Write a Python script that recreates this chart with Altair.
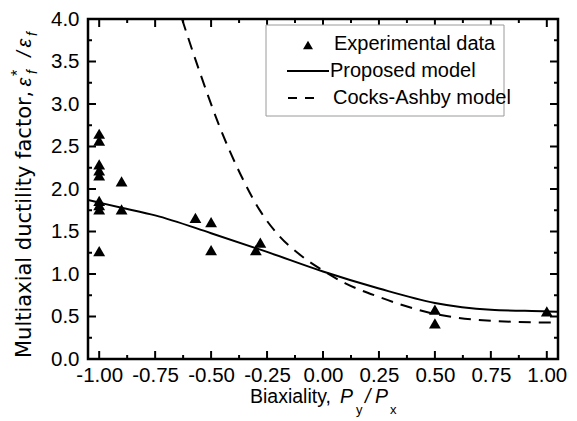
import altair as alt
import pandas as pd

# ---------------- data ----------------
exp_x = [-1.0, -1.0, -1.0, -1.0, -1.0, -1.0, -1.0, -1.0, -1.0,
         -0.9, -0.9, -0.57, -0.5, -0.5, -0.28, -0.3, 0.5, 0.5, 1.0]
exp_y = [2.65, 2.57, 2.29, 2.22, 2.16, 1.86, 1.81, 1.76, 1.27,
         2.09, 1.76, 1.66, 1.61, 1.28, 1.37, 1.28, 0.58, 0.42, 0.56]

prop_x = [-1.05, -1.0, -0.9, -0.75, -0.5, -0.25, 0.0, 0.25, 0.5, 0.75, 1.0, 1.05]
prop_y = [1.87, 1.84, 1.78, 1.69, 1.48, 1.26, 1.03, 0.83, 0.66, 0.58, 0.56, 0.555]

ca_x = [-0.63, -0.55, -0.46, -0.37, -0.28, -0.2, -0.1, 0.0, 0.1, 0.25, 0.5, 0.75, 1.0, 1.05]
ca_y = [4.0, 3.37, 2.72, 2.18, 1.74, 1.46, 1.22, 1.04, 0.89, 0.73, 0.53, 0.45, 0.43, 0.43]

x_ticks = [-1.0, -0.75, -0.5, -0.25, 0.0, 0.25, 0.5, 0.75, 1.0]
y_ticks = [0.0, 0.5, 1.0, 1.5, 2.0, 2.5, 3.0, 3.5, 4.0]
x_minor = [-0.875, -0.625, -0.375, -0.125, 0.125, 0.375, 0.625, 0.875]
y_minor = [0.25, 0.75, 1.25, 1.75, 2.25, 2.75, 3.25, 3.75]

legend_labels = ["Experimental data", "Proposed model", "Cocks-Ashby model"]

# ---------------- layout ----------------
W, H = 470, 340
FONT = "Liberation Sans"
XDOM = [-1.05, 1.05]
YDOM = [0, 4]
TOP = 19  # page y of plot top
LEFT = 88

df_exp = pd.DataFrame({"x": exp_x, "y": exp_y})
df_prop = pd.DataFrame({"x": prop_x, "y": prop_y})
df_ca = pd.DataFrame({"x": ca_x, "y": ca_y})

xs = alt.Scale(domain=XDOM, nice=False, zero=False)
ys = alt.Scale(domain=YDOM, nice=False, zero=False)

minus_fix = "replace(format(datum.value, '%s'), '\u2212', '-')"

xaxis = alt.Axis(values=x_ticks, labelExpr=minus_fix % ".2f", ticks=False, tickSize=0,
                 domain=False, grid=False, title=None, labelFont=FONT, labelFontSize=20.5,
                 labelColor="black", labelPadding=6, labelFlush=False)
yaxis = alt.Axis(values=y_ticks, labelExpr=minus_fix % ".1f", ticks=False, tickSize=0,
                 domain=False, grid=False, title=None, labelFont=FONT, labelFontSize=20.5,
                 labelColor="black", labelPadding=9, labelFlush=False)

base_x = alt.X("x:Q", scale=xs, axis=xaxis)
base_y = alt.Y("y:Q", scale=ys, axis=yaxis)

points = alt.Chart(df_exp).mark_point(shape="triangle-up", filled=True, color="black",
                                      size=140, opacity=1).encode(x=base_x, y=base_y)
prop = alt.Chart(df_prop).mark_line(color="black", strokeWidth=2, interpolate="monotone",
                                    clip=True).encode(x=alt.X("x:Q", scale=xs), y=alt.Y("y:Q", scale=ys))
ca = alt.Chart(df_ca).mark_line(color="black", strokeWidth=2, strokeDash=[12, 8],
                                interpolate="monotone", clip=True).encode(
    x=alt.X("x:Q", scale=xs), y=alt.Y("y:Q", scale=ys))

# inward ticks on all four sides
MAJ, MIN = 8, 4
def ticks_x(vals, length):
    d = pd.DataFrame({"x": vals})
    bot = alt.Chart(d).mark_rule(color="black", strokeWidth=2).encode(
        x=alt.X("x:Q", scale=xs), y=alt.value(H), y2=alt.value(H - length))
    top = alt.Chart(d).mark_rule(color="black", strokeWidth=2).encode(
        x=alt.X("x:Q", scale=xs), y=alt.value(0), y2=alt.value(length))
    return [bot, top]

def ticks_y(vals, length):
    d = pd.DataFrame({"y": vals})
    lft = alt.Chart(d).mark_rule(color="black", strokeWidth=2).encode(
        y=alt.Y("y:Q", scale=ys), x=alt.value(0), x2=alt.value(length))
    rgt = alt.Chart(d).mark_rule(color="black", strokeWidth=2).encode(
        y=alt.Y("y:Q", scale=ys), x=alt.value(W), x2=alt.value(W - length))
    return [lft, rgt]

tick_layers = ticks_x(x_ticks, MAJ) + ticks_x(x_minor, MIN) + ticks_y(y_ticks, MAJ) + ticks_y(y_minor, MIN)

# legend (drawn by hand); positions given in page pixels, converted to plot pixels
def px(v):
    return v - LEFT

def py(v):
    return v - TOP

dummy = pd.DataFrame({"a": [0]})
leg_box = alt.Chart(dummy).mark_rect(fill="white", stroke="#9a9a9a", strokeWidth=1).encode(
    x=alt.value(px(266)), x2=alt.value(px(504)), y=alt.value(py(25)), y2=alt.value(py(116)))
leg_tri = alt.Chart(dummy).mark_point(shape="triangle-up", filled=True, color="black",
                                      size=100, opacity=1).encode(x=alt.value(px(308)), y=alt.value(py(45)))
leg_solid = alt.Chart(dummy).mark_rule(color="black", strokeWidth=2).encode(
    x=alt.value(px(287)), x2=alt.value(px(329)), y=alt.value(py(71)))
leg_dash = alt.Chart(dummy).mark_rule(color="black", strokeWidth=2, strokeDash=[9, 8]).encode(
    x=alt.value(px(288)), x2=alt.value(px(315)), y=alt.value(py(98)))

def txt(s, x, y, size=20, style="normal", align="left", angle=0, baseline="middle", font=FONT):
    return alt.Chart(dummy).mark_text(text=s, font=font, fontSize=size, fontStyle=style,
                                      align=align, baseline=baseline, angle=angle,
                                      color="black").encode(x=alt.value(x), y=alt.value(y))

leg_txt = [txt(legend_labels[0], px(334), py(44)),
           txt(legend_labels[1], px(330), py(71)),
           txt(legend_labels[2], px(333), py(98))]

# x title: Biaxiality, P_y/P_x
xt = [
    txt("Biaxiality,", px(250), py(403), size=19.5, baseline="alphabetic"),
    txt("P", px(340), py(403), size=19.5, style="italic", baseline="alphabetic"),
    txt("y", px(356), py(414), size=13, baseline="alphabetic"),
    txt("/", px(365), py(403), size=19.5, style="italic", baseline="alphabetic"),
    txt("P", px(375), py(403), size=19.5, style="italic", baseline="alphabetic"),
    txt("x", px(390), py(414), size=13, baseline="alphabetic"),
]

# y title: Multiaxial ductility factor, eps*_f / eps_f   (rotated)
YB = px(31)
yt = [
    txt("Multiaxial ductility factor,", YB, py(358), size=21, angle=270, baseline="alphabetic",
        font="DejaVu Sans"),
    txt("\u03b5", YB, py(82), size=20, style="italic", angle=270, align="center", baseline="alphabetic"),
    txt("*", YB - 8, py(73), size=16, angle=270, align="center", baseline="alphabetic"),
    txt("f", YB + 6, py(72), size=14, style="italic", angle=270, align="center", baseline="alphabetic"),
    txt("/", YB, py(54), size=20, style="italic", angle=270, align="center", baseline="alphabetic"),
    txt("\u03b5", YB, py(43), size=20, style="italic", angle=270, align="center", baseline="alphabetic"),
    txt("f", YB + 6, py(34), size=14, style="italic", angle=270, align="center", baseline="alphabetic"),
]

chart = alt.layer(points, prop, ca, *tick_layers, leg_box, leg_tri, leg_solid, leg_dash,
                  *leg_txt, *xt, *yt).properties(
    width=W, height=H,
    autosize=alt.AutoSizeParams(type="none"),
    padding={"left": LEFT - 8, "top": TOP - 8, "right": 10, "bottom": 58},
    background="white",
).configure_view(stroke="black", strokeWidth=2.5)

chart.save("out.html", embed_options={"renderer": "svg", "actions": False})
